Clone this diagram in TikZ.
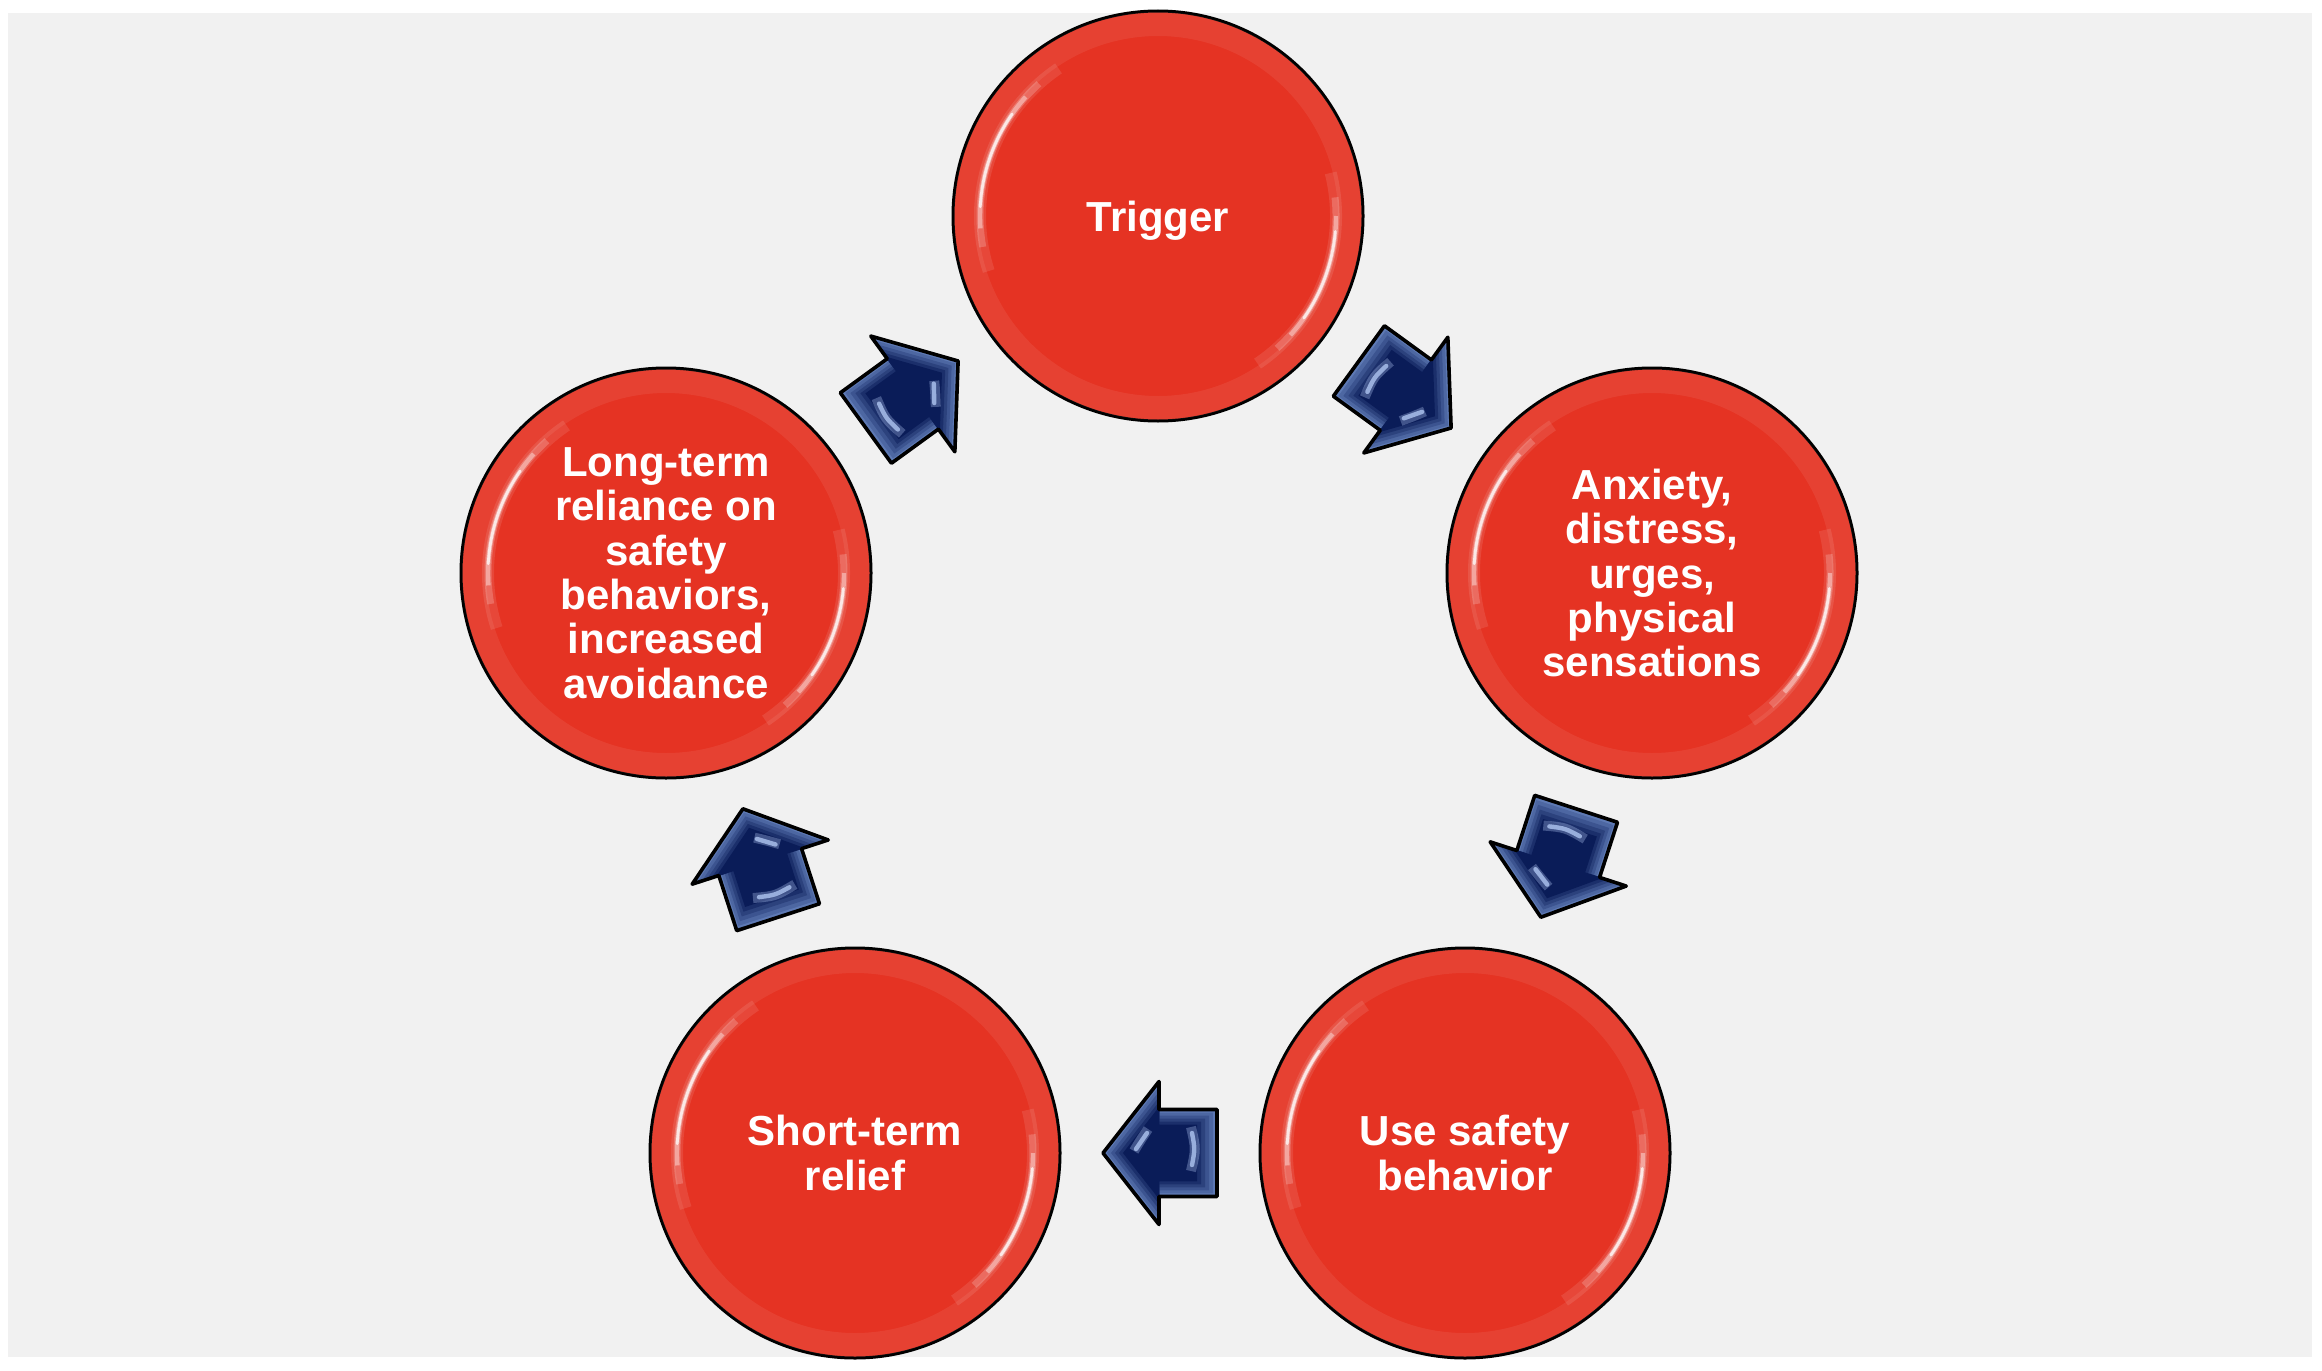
\documentclass[tikz,border=0pt]{standalone}
\usepackage{fontspec}
\setmainfont{Liberation Sans}
\usetikzlibrary{calc}
\definecolor{bgray}{HTML}{F1F1F1}
\definecolor{circred}{HTML}{E53323}
\definecolor{navyA}{HTML}{5E7AB5}
\definecolor{navyD}{HTML}{0A1C58}
\definecolor{navyHL}{HTML}{A8BEEB}
\def\arrowshp{(-57,-43.5) -- (1,-43.5) -- (1,-71.5) -- (57,0) -- (1,71.5) -- (1,43.5) -- (-57,43.5) -- cycle}
\newcommand\glossy[1]{%
  \begin{scope}[shift={(#1.center)}]
    \draw[white,opacity=0.07,line width=12pt] (0,0) circle[radius=96pt];
    \draw[white,opacity=0.1,line width=6pt] (124:89pt) arc[start angle=124,end angle=198,radius=89pt];
    \draw[white,opacity=0.2,line width=3.5pt] (132:89pt) arc[start angle=132,end angle=190,radius=89pt];
    \draw[white,opacity=0.4,line width=2.2pt] (138:89pt) arc[start angle=138,end angle=184,radius=89pt];
    \draw[white,opacity=0.75,line width=1.4pt,line cap=round] (145:89pt) arc[start angle=145,end angle=177,radius=89pt];
    \draw[white,opacity=0.1,line width=6pt] (-56:89pt) arc[start angle=-56,end angle=14,radius=89pt];
    \draw[white,opacity=0.2,line width=3.5pt] (-48:89pt) arc[start angle=-48,end angle=6,radius=89pt];
    \draw[white,opacity=0.4,line width=2.2pt] (-42:89pt) arc[start angle=-42,end angle=0,radius=89pt];
    \draw[white,opacity=0.75,line width=1.4pt,line cap=round] (-35:89pt) arc[start angle=-35,end angle=-5,radius=89pt];
  \end{scope}}
\newcommand\navyarrow[2]{%
  \begin{scope}[shift={(#1)},rotate=#2]
    \fill[navyA] \arrowshp;
    \fill[navyA!80!navyD,scale=0.93] \arrowshp;
    \fill[navyA!60!navyD,scale=0.86] \arrowshp;
    \fill[navyA!40!navyD,scale=0.79] \arrowshp;
    \fill[navyA!20!navyD,scale=0.72] \arrowshp;
    \fill[navyD,scale=0.65] \arrowshp;
    \draw[navyHL,opacity=0.35,line width=5pt] (26,2) .. controls (20,12) .. (12,24);
    \draw[navyHL,opacity=0.85,line width=2.2pt,line cap=round] (24,4) .. controls (19,12) .. (13,20);
    \draw[navyHL,opacity=0.35,line width=5pt] (-31,26) .. controls (-36,4) .. (-31,-18);
    \draw[navyHL,opacity=0.85,line width=2.2pt,line cap=round] (-32,20) .. controls (-35,4) .. (-32,-12);
    \draw[black,line width=1.8pt,line join=round] \arrowshp;
  \end{scope}}
\begin{document}
\begin{tikzpicture}[x=0.5pt,y=-0.5pt,
  bubble/.style={circle, minimum size=205pt, inner sep=0pt, fill=circred,
    draw=black, line width=1.5pt, text=white,
    font=\fontsize{21}{22.2}\selectfont\bfseries, align=center}]
\useasboundingbox (0,0) rectangle (2322,1370);
\fill[white] (0,0) rectangle (2322,1370);
\fill[bgray] (8,13) rectangle (2312,1357);

\node[bubble,text depth=0pt] (trig) at (1158,216) {Trigger};
\node[bubble] (anx) at (1652,573) {Anxiety,\\distress,\\urges,\\physical\\sensations};
\node[bubble] (use) at (1465,1153) {Use safety\\behavior};
\node[bubble] (short) at (855,1153) {Short-term\\relief};
\node[bubble] (long) at (666,573) {Long-term\\reliance on\\safety\\behaviors,\\increased\\avoidance};

\glossy{trig}
\glossy{anx}
\glossy{use}
\glossy{short}
\glossy{long}

\coordinate (m1) at ($(trig)!0.5!(anx)$);
\coordinate (m2) at ($(anx)!0.5!(use)$);
\coordinate (m3) at ($(use)!0.5!(short)$);
\coordinate (m4) at ($(short)!0.5!(long)$);
\coordinate (m5) at ($(long)!0.5!(trig)$);

\navyarrow{m1}{-36}
\navyarrow{m2}{-108}
\navyarrow{m3}{180}
\navyarrow{m4}{108}
\navyarrow{m5}{36}
\end{tikzpicture}
\end{document}
